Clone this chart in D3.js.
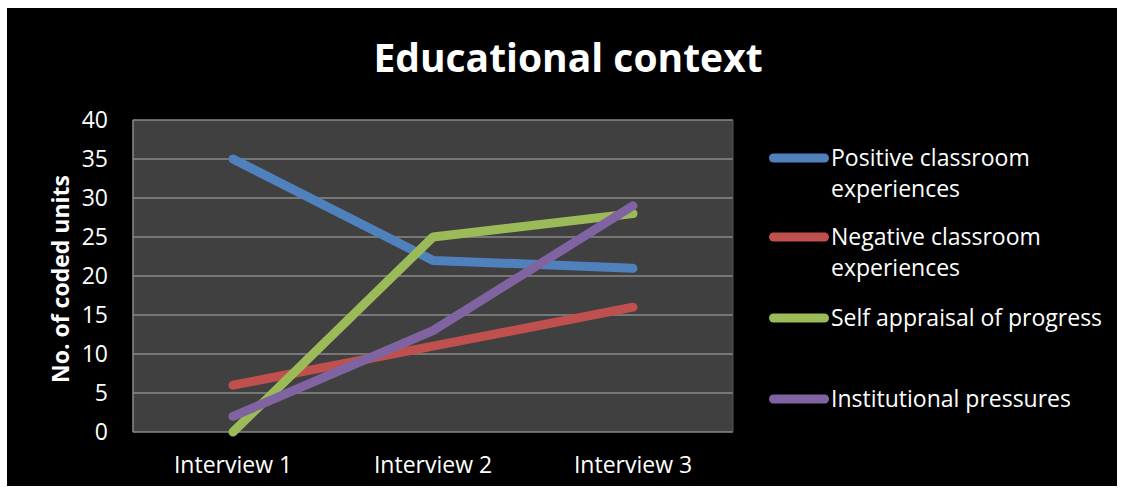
<!DOCTYPE html>
<html><head><meta charset="utf-8">
<script src="https://cdn.jsdelivr.net/npm/d3@7"></script>
<style>html,body{margin:0;padding:0;background:#fff;}svg{display:block;}</style>
</head><body>
<script>
const categories = ["Interview 1", "Interview 2", "Interview 3"];
const seriesNames = ["Positive classroom experiences", "Negative classroom experiences", "Self appraisal of progress", "Institutional pressures"];
const positive = [35, 22, 21];
const negative = [6, 11, 16];
const selfAppraisal = [0, 25, 28];
const institutional = [2, 13, 29];
const yTicks = [0, 5, 10, 15, 20, 25, 30, 35, 40];
const colors = ["#4f81bd", "#c0504d", "#9bbb59", "#8064a2"];
const legendLines = [["Positive classroom", "experiences"], ["Negative classroom", "experiences"], ["Self appraisal of progress"], ["Institutional pressures"]];

const series = [positive, negative, selfAppraisal, institutional].map((v, i) => ({name: seriesNames[i], values: v, color: colors[i], lines: legendLines[i]}));

const W = 1125, H = 494;
const svg = d3.select("body").append("svg").attr("width", W).attr("height", H);
const font = "'Open Sans', 'DejaVu Sans', sans-serif";

svg.append("rect").attr("x", 7).attr("y", 8).attr("width", 1110).attr("height", 478).attr("fill", "#000");

const plot = {left: 133, right: 733, top: 120, bottom: 432};
const x = d3.scaleBand().domain(categories).range([plot.left, plot.right]);
const y = d3.scaleLinear().domain([0, 40]).range([plot.bottom, plot.top]);

svg.append("rect").attr("x", plot.left).attr("y", plot.top).attr("width", plot.right - plot.left).attr("height", plot.bottom - plot.top)
  .attr("fill", "#404040");

// gridlines
svg.append("g").selectAll("line").data(yTicks).join("line")
  .attr("x1", plot.left).attr("x2", plot.right)
  .attr("y1", d => y(d)).attr("y2", d => y(d))
  .attr("stroke", "#8a8a8a").attr("stroke-width", 1.5);

svg.append("line").attr("x1", plot.left).attr("x2", plot.left).attr("y1", plot.top).attr("y2", plot.bottom)
  .attr("stroke", "#8a8a8a").attr("stroke-width", 1.5);
svg.append("line").attr("x1", plot.right).attr("x2", plot.right).attr("y1", plot.top).attr("y2", plot.bottom)
  .attr("stroke", "#555").attr("stroke-width", 1);

// y axis
const yAxis = d3.axisLeft(y).tickValues(yTicks).tickSize(0).tickPadding(25);
const yg = svg.append("g").attr("transform", `translate(${plot.left},0)`).call(yAxis);
yg.select(".domain").remove();
yg.selectAll("text").attr("fill", "#fff").attr("font-size", 23).attr("font-family", font);

// x axis
const xAxis = d3.axisBottom(x).tickSize(0).tickPadding(25);
const xg = svg.append("g").attr("transform", `translate(0,${plot.bottom})`).call(xAxis);
xg.select(".domain").remove();
xg.selectAll("text").attr("fill", "#fff").attr("font-size", 23).attr("font-family", font);

// lines
const line = d3.line().x((d, i) => x(categories[i]) + x.bandwidth() / 2).y(d => y(d));
svg.append("g").selectAll("path").data(series).join("path")
  .attr("d", d => line(d.values))
  .attr("fill", "none").attr("stroke", d => d.color).attr("stroke-width", 9)
  .attr("stroke-linecap", "round").attr("stroke-linejoin", "round");

// title
svg.append("text").attr("x", 568).attr("y", 72).attr("text-anchor", "middle")
  .attr("fill", "#fff").attr("font-size", 39).attr("font-weight", "bold").attr("font-family", font)
  .text("Educational context");

// y title
svg.append("text").attr("transform", "translate(69,279) rotate(-90)").attr("text-anchor", "middle")
  .attr("fill", "#fff").attr("font-size", 23).attr("font-weight", "bold").attr("font-family", font)
  .text("No. of coded units");

// legend
const legendY = [158, 237, 318, 399];
const lg = svg.append("g").selectAll("g").data(series).join("g")
  .attr("transform", (d, i) => `translate(0,${legendY[i]})`);
lg.append("line").attr("x1", 773.5).attr("x2", 824.5).attr("y1", 0).attr("y2", 0)
  .attr("stroke", d => d.color).attr("stroke-width", 9).attr("stroke-linecap", "round");
lg.each(function(d) {
  const t = d3.select(this).append("text").attr("x", 831).attr("y", 8)
    .attr("fill", "#fff").attr("font-size", 23).attr("font-family", font);
  d.lines.forEach((l, j) => t.append("tspan").attr("x", 831).attr("dy", j === 0 ? 0 : 31).text(l));
});
</script>
</body></html>
